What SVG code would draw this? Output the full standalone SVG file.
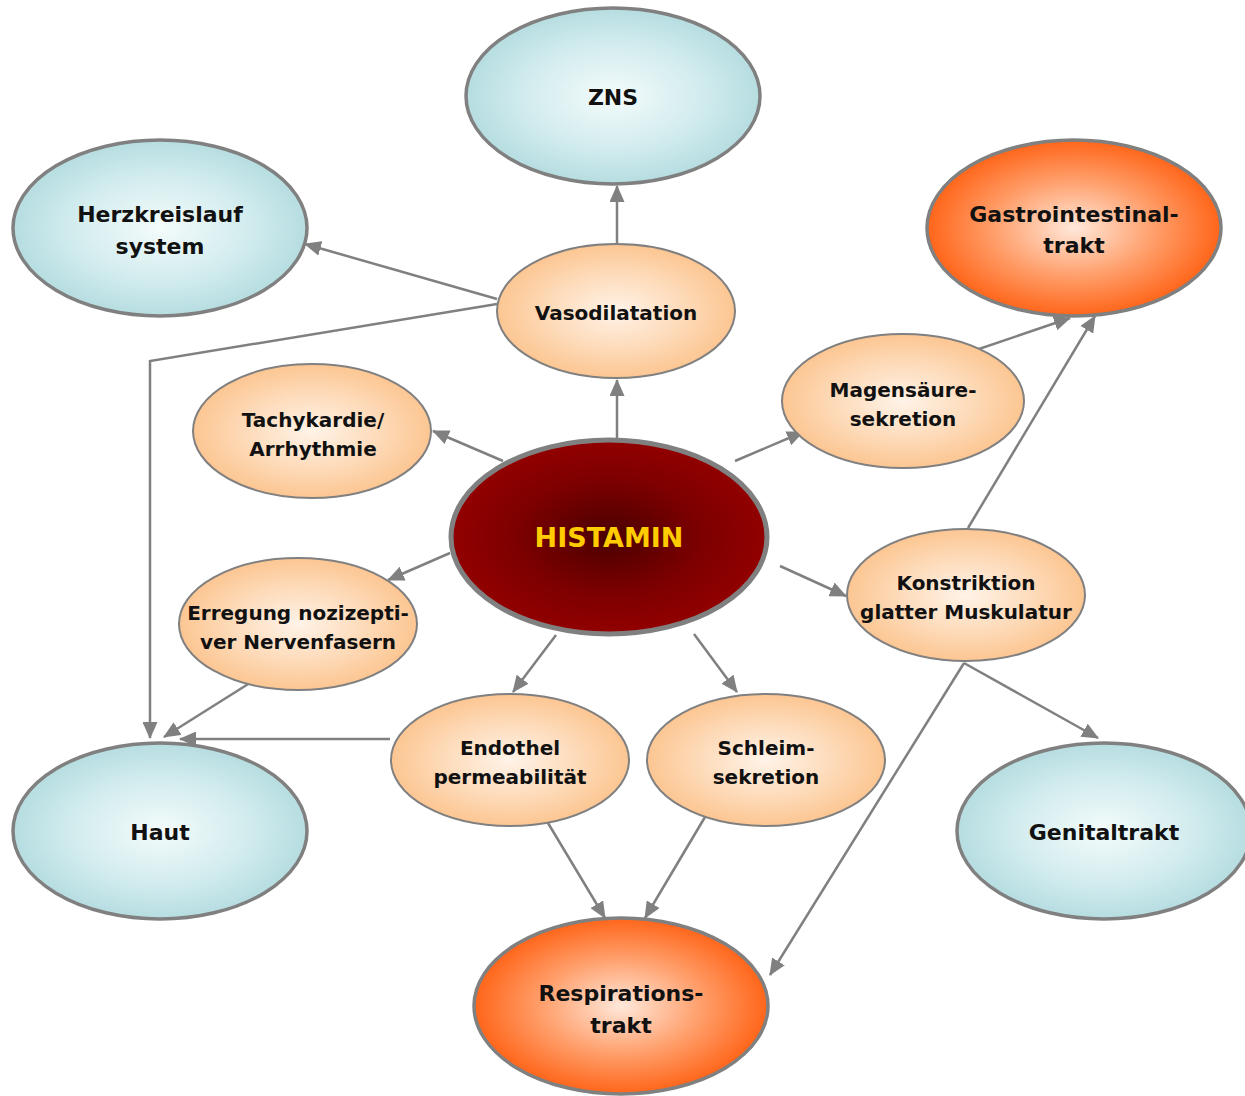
<svg xmlns="http://www.w3.org/2000/svg" width="1245" height="1096" viewBox="0 0 1245 1096">
<defs>
<radialGradient id="gBlue" cx="50%" cy="50%" r="50%">
<stop offset="0" stop-color="#f4fbfb"/>
<stop offset="0.6" stop-color="#d2ecee"/>
<stop offset="1" stop-color="#b6dde1"/>
</radialGradient>
<radialGradient id="gPeach" cx="50%" cy="50%" r="50%">
<stop offset="0" stop-color="#fff3e8"/>
<stop offset="0.6" stop-color="#fdd9b6"/>
<stop offset="1" stop-color="#fcc692"/>
</radialGradient>
<radialGradient id="gOrange" cx="50%" cy="50%" r="50%">
<stop offset="0" stop-color="#ffe8da"/>
<stop offset="0.55" stop-color="#ff9e6a"/>
<stop offset="1" stop-color="#ff6519"/>
</radialGradient>
<radialGradient id="gRed" cx="50%" cy="50%" r="50%">
<stop offset="0" stop-color="#4a0000"/>
<stop offset="0.6" stop-color="#7e0000"/>
<stop offset="1" stop-color="#920000"/>
</radialGradient>
<marker id="arr" markerUnits="userSpaceOnUse" markerWidth="17" markerHeight="15" refX="16" refY="7.5" orient="auto">
<path d="M0,0 L17,7.5 L0,15 Z" fill="#808080"/>
</marker>
</defs>
<style>
.big{stroke:#808080;stroke-width:3.5}
.small{stroke:#808080;stroke-width:2}
.blue{fill:url(#gBlue)}
.peach{fill:url(#gPeach)}
.orange{fill:url(#gOrange)}
text{font-family:"DejaVu Sans","Liberation Sans",sans-serif;font-weight:bold;text-anchor:middle;fill:#111}
.l{font-size:22px}
.s{font-size:20px}
.c line,.c polyline{stroke:#808080;stroke-width:2.5;fill:none;marker-end:url(#arr)}
</style>
<g class="c" id="connectors">
<line x1="617" y1="244" x2="617" y2="186"/>
<line x1="617" y1="438" x2="617" y2="380"/>
<line x1="497" y1="299" x2="305" y2="244"/>
<polyline points="497,304 150,361 150,738"/>
<line x1="503" y1="461" x2="433" y2="431"/>
<line x1="735" y1="461" x2="803" y2="432"/>
<line x1="976" y1="350" x2="1070" y2="318"/>
<line x1="968" y1="528" x2="1095" y2="316"/>
<line x1="450" y1="553" x2="388" y2="580"/>
<line x1="780" y1="566" x2="846" y2="596"/>
<line x1="556" y1="635" x2="513" y2="692"/>
<line x1="694" y1="634" x2="737" y2="692"/>
<line x1="253" y1="681" x2="164" y2="737"/>
<line x1="390" y1="739" x2="180" y2="739"/>
<line x1="548" y1="823" x2="605" y2="918"/>
<line x1="705" y1="817" x2="645" y2="918"/>
<line x1="964" y1="663" x2="770" y2="975"/>
<line x1="964" y1="663" x2="1098" y2="738"/>
</g>
<g id="zns"><ellipse class="big blue" cx="613" cy="96" rx="147" ry="88"/><text class="l" x="613" y="105">ZNS</text></g>
<g id="herz"><ellipse class="big blue" cx="160" cy="228" rx="147" ry="88"/><text class="l" x="160" y="222">Herzkreislauf</text><text class="l" x="160" y="254">system</text></g>
<g id="gastro"><ellipse class="big orange" cx="1074" cy="228" rx="147" ry="88"/><text class="l" x="1074" y="222">Gastrointestinal-</text><text class="l" x="1074" y="253">trakt</text></g>
<g id="vaso"><ellipse class="small peach" cx="616" cy="311" rx="119" ry="67"/><text class="s" x="616" y="320">Vasodilatation</text></g>
<g id="tachy"><ellipse class="small peach" cx="312" cy="431" rx="119" ry="67"/><text class="s" x="313" y="427">Tachykardie/</text><text class="s" x="313" y="456">Arrhythmie</text></g>
<g id="magen"><ellipse class="small peach" cx="903" cy="401" rx="121" ry="67"/><text class="s" x="903" y="397">Magensäure-</text><text class="s" x="903" y="426">sekretion</text></g>
<g id="histamin"><ellipse cx="609" cy="537" rx="158" ry="97" fill="url(#gRed)" stroke="#808080" stroke-width="5"/><text x="609" y="547" style="font-size:27px;fill:#ffcc00">HISTAMIN</text></g>
<g id="erregung"><ellipse class="small peach" cx="298" cy="624" rx="119" ry="66"/><text class="s" x="298" y="620">Erregung nozizepti-</text><text class="s" x="298" y="649">ver Nervenfasern</text></g>
<g id="konstriktion"><ellipse class="small peach" cx="966" cy="595" rx="119" ry="66"/><text class="s" x="966" y="590">Konstriktion</text><text class="s" x="966" y="619">glatter Muskulatur</text></g>
<g id="endothel"><ellipse class="small peach" cx="510" cy="760" rx="119" ry="66"/><text class="s" x="510" y="755">Endothel</text><text class="s" x="510" y="784">permeabilität</text></g>
<g id="schleim"><ellipse class="small peach" cx="766" cy="760" rx="119" ry="66"/><text class="s" x="766" y="755">Schleim-</text><text class="s" x="766" y="784">sekretion</text></g>
<g id="haut"><ellipse class="big blue" cx="160" cy="831" rx="147" ry="88"/><text class="l" x="160" y="840">Haut</text></g>
<g id="genital"><ellipse class="big blue" cx="1104" cy="831" rx="147" ry="88"/><text class="l" x="1104" y="840">Genitaltrakt</text></g>
<g id="resp"><ellipse class="big orange" cx="621" cy="1006" rx="147" ry="88"/><text class="l" x="621" y="1001">Respirations-</text><text class="l" x="621" y="1033">trakt</text></g>
</svg>
